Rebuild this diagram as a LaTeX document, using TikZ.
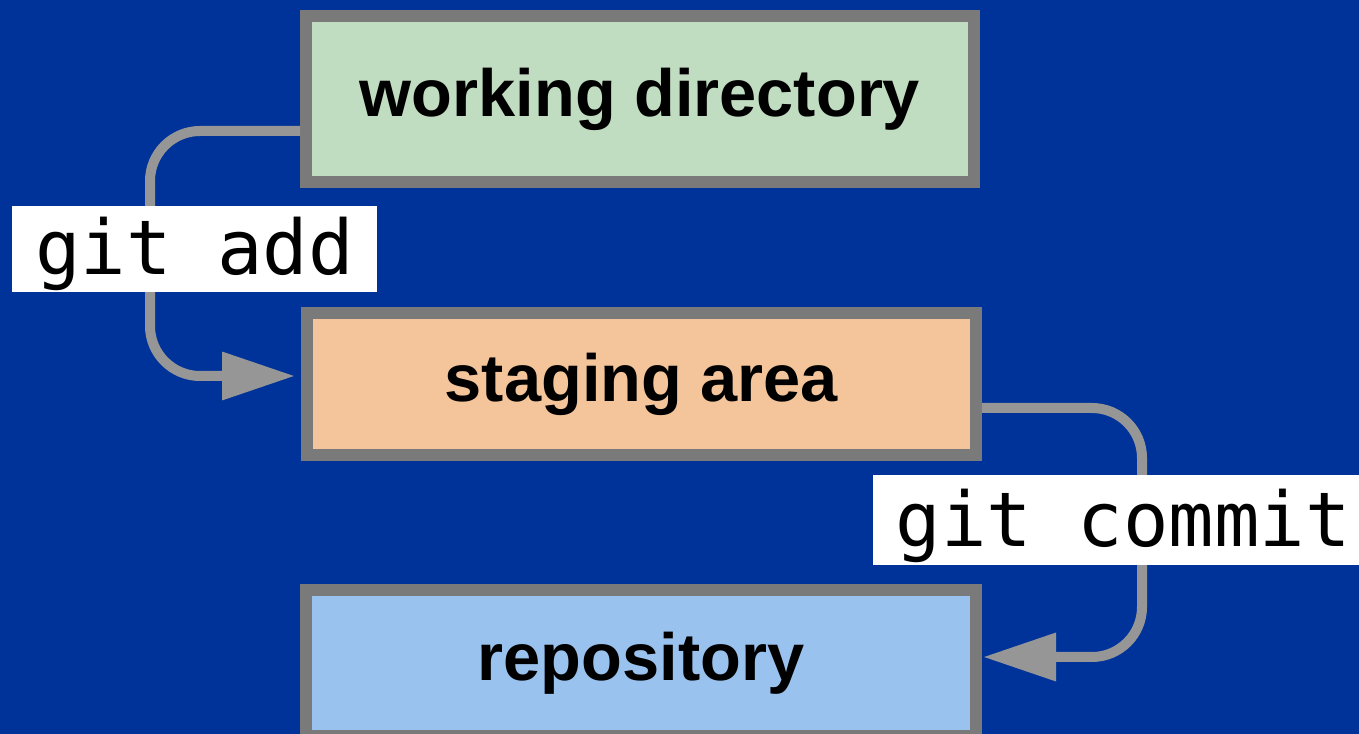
\documentclass[tikz,border=0pt]{standalone}
\usepackage{fontspec}
\setmainfont{Liberation Sans}
\newfontfamily\gitmono{DejaVu Sans Mono}
\usetikzlibrary{arrows.meta}

\definecolor{slideblue}{RGB}{0,51,153}
\definecolor{wdgreen}{RGB}{193,221,193}
\definecolor{saorange}{RGB}{244,197,154}
\definecolor{repoblue}{RGB}{154,194,238}
\definecolor{framegray}{RGB}{122,122,122}
\definecolor{flowgray}{RGB}{150,150,150}

\begin{document}
\begin{tikzpicture}[
    area/.style={draw=framegray, line width=1.2mm, minimum width=6.68cm, inner sep=0pt, outer sep=0pt, font=\fontsize{19}{22}\selectfont\bfseries},
    cmd/.style={fill=white, inner xsep=2.3mm, inner ysep=0pt, text height=6.9mm, text depth=1.7mm, font=\gitmono\fontsize{21.5}{24}\selectfont},
    flow/.style={draw=flowgray, line width=1mm, rounded corners=5mm, -{Triangle[length=7.3mm, width=4.6mm]}}
  ]
  \fill[slideblue] (0,0) rectangle (13.59,-7.34);
  \useasboundingbox (0,0) rectangle (13.59,-7.34);

  % the three areas
  \node[area, fill=wdgreen, minimum height=1.66cm] (work) at (6.40,-0.99) {working directory};
  \node[area, fill=saorange, minimum width=6.69cm, minimum height=1.42cm] (stage) at (6.415,-3.84) {staging area};
  \node[area, fill=repoblue, minimum width=6.70cm, minimum height=1.46cm] (repo) at (6.41,-6.63) {repository};

  % commands moving files between them
  \draw[flow] ([xshift=-0.6mm, yshift=-3.2mm]work.west) -| (1.5,-2.5) |- ([xshift=-1.2mm, yshift=0.8mm]stage.west);
  \draw[flow] ([xshift=0.6mm, yshift=-2.4mm]stage.east) -| (11.42,-5.2) |- ([xshift=0.7mm, yshift=0.6mm]repo.east);

  \node[cmd] (addlbl) at (1.945,-2.49) {git add};
  \node[cmd, anchor=west, text height=7.2mm, text depth=1.8mm] (commitlbl) at (8.72,-5.20) {git commit};
\end{tikzpicture}
\end{document}
